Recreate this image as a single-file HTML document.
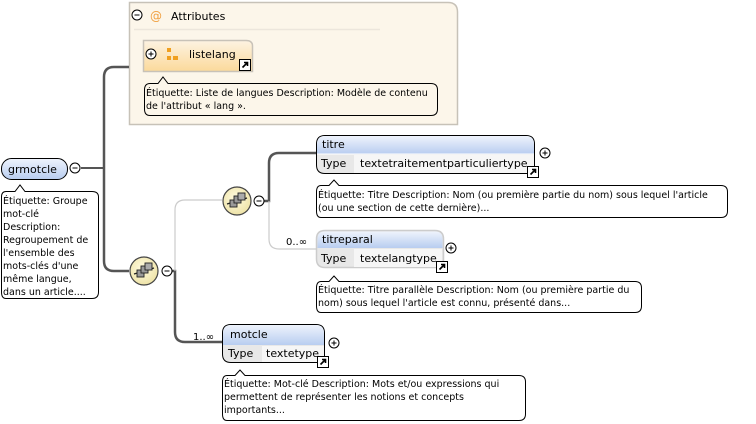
<!DOCTYPE html>
<html><head><meta charset="utf-8"><style>
html,body{margin:0;padding:0;background:#fff;width:756px;height:424px;overflow:hidden}
svg{display:block}
text{font-family:"DejaVu Sans","Liberation Sans",sans-serif;font-size:11px;fill:#000}
.tt{font-size:9.5px}
</style></head><body>
<svg width="756" height="424" viewBox="0 0 756 424" xmlns="http://www.w3.org/2000/svg">
<defs>
<linearGradient id="blue" x1="0" y1="0" x2="0" y2="1"><stop offset="0" stop-color="#eef3fc"/><stop offset="1" stop-color="#b8cdf0"/></linearGradient>
<linearGradient id="org" x1="0" y1="0" x2="0" y2="1"><stop offset="0" stop-color="#fdf3e2"/><stop offset="1" stop-color="#fbd99a"/></linearGradient>
<radialGradient id="seq" cx="0.45" cy="0.4" r="0.6"><stop offset="0" stop-color="#fffbe0"/><stop offset="1" stop-color="#eee3a8"/></radialGradient>
<g id="minus"><circle r="5" fill="#fff" stroke="#000" stroke-width="1"/><line x1="-2.5" y1="0" x2="2.5" y2="0" stroke="#000"/></g>
<g id="plus"><circle r="5" fill="#fff" stroke="#000" stroke-width="1"/><line x1="-2.5" y1="0" x2="2.5" y2="0" stroke="#000"/><line x1="0" y1="-2.5" x2="0" y2="2.5" stroke="#000"/></g>
<g id="link"><rect width="11" height="11" fill="#fff" stroke="#000"/><path d="M3 8 L8 3 M4.5 3 H8 V6.5" stroke="#000" stroke-width="1.6" fill="none"/></g>
<g id="seqicon"><circle r="14" fill="url(#seq)" stroke="#444" stroke-width="1.2"/><line x1="-10" y1="3" x2="10" y2="-3" stroke="#222" stroke-width="1.2"/><rect x="-7" y="-1" width="7" height="7" fill="#999" stroke="#222" stroke-width="0.9"/><rect x="-3" y="-5" width="7" height="7" fill="#999" stroke="#222" stroke-width="0.9"/><rect x="1" y="-8" width="7" height="7" fill="#aaa" stroke="#222" stroke-width="0.9"/></g>
</defs>

<!-- Attributes box -->
<path d="M129.5 2.5 H448 Q457.5 2.5 457.5 12 V124.5 H129.5 Z" fill="#fcf6ea" stroke="#c7c2b8" stroke-width="1.5"/>
<line x1="134" y1="29.5" x2="380" y2="29.5" stroke="#ece6dc" stroke-width="1.5"/>
<use href="#minus" x="137" y="15"/>
<text x="150" y="20" style="fill:#f0a040;font-size:12px">@</text>
<text x="171" y="20">Attributes</text>
<path d="M143.5 40.5 H246 Q252.5 40.5 252.5 46 V71.5 H143.5 Z" fill="url(#org)" stroke="#c8c2b8" stroke-width="1.5"/>
<use href="#plus" x="151" y="54"/>
<rect x="167" y="48" width="4" height="4" fill="#f0a020"/><rect x="167" y="56" width="4" height="4" fill="#f0a020"/><rect x="173" y="56" width="5" height="4" fill="#f0a020"/>
<text x="189" y="58">listelang</text>
<use href="#link" x="239.5" y="59.5"/>
<path d="M150 83.5 H158 L163 77 L168 83.5 H431 Q437.5 83.5 437.5 90 V109 Q437.5 115.5 431 115.5 H150 Q144.5 115.5 144.5 109 V90 Q144.5 83.5 150 83.5 Z" fill="#fcf6ea" stroke="#000"/>
<text class="tt" x="146" y="96">Étiquette: Liste de langues Description: Modèle de contenu</text>
<text class="tt" x="146" y="109">de l'attribut « lang ».</text>

<!-- connectors -->
<path d="M81 168 H104" stroke="#555" stroke-width="2" fill="none"/>
<path d="M129 67 H114 Q104 67 104 77 V261 Q104 271 114 271 H129" stroke="#555" stroke-width="2.5" fill="none"/>
<path d="M172 271 H175 V332 Q175 342 185 342 H222" stroke="#555" stroke-width="2.5" fill="none"/>
<path d="M175 271 V210 Q175 200 185 200 H222" stroke="#ccc" stroke-width="1.2" fill="none"/>
<path d="M264 201 H269 V163 Q269 153 279 153 H316" stroke="#555" stroke-width="2.5" fill="none"/>
<path d="M269 201 V239 Q269 249 279 249 H316" stroke="#ccc" stroke-width="1.2" fill="none"/>

<!-- grmotcle -->
<rect x="1.5" y="158.5" width="66" height="21" rx="10" fill="url(#blue)" stroke="#000"/>
<text x="8" y="173">grmotcle</text>
<use href="#minus" x="75" y="168"/>
<path d="M6 191.5 H15 L20 185 L25 191.5 H92 Q98.5 191.5 98.5 197 V292 Q98.5 298.5 92 298.5 H6 Q1.5 298.5 1.5 292 V197 Q1.5 191.5 6 191.5 Z" fill="#fff" stroke="#000"/>
<text class="tt" x="3" y="204">Étiquette: Groupe</text>
<text class="tt" x="3" y="217">mot-clé</text>
<text class="tt" x="3" y="230">Description:</text>
<text class="tt" x="3" y="243">Regroupement de</text>
<text class="tt" x="3" y="256">l'ensemble des</text>
<text class="tt" x="3" y="269">mots-clés d'une</text>
<text class="tt" x="3" y="282">même langue,</text>
<text class="tt" x="3" y="295">dans un article....</text>

<!-- sequences -->
<use href="#seqicon" x="144" y="271"/>
<use href="#minus" x="167" y="271"/>
<use href="#seqicon" x="237" y="201"/>
<use href="#minus" x="259" y="201"/>

<!-- titre -->
<path d="M316.5 144 Q316.5 135.5 325 135.5 H526 Q534.5 135.5 534.5 144 V173.5 H325 Q316.5 173.5 316.5 165 Z" fill="#e8e8e8" stroke="#000"/>
<path d="M317 144 Q317 136 325 136 H526 Q534 136 534 144 V154 H317 Z" fill="url(#blue)"/>
<line x1="317" y1="154" x2="534" y2="154" stroke="#fff"/>
<rect x="354" y="155" width="180" height="18" fill="#f6f6f6"/>
<text x="322" y="148">titre</text>
<text x="321" y="167">Type</text>
<text x="360" y="167">textetraitementparticuliertype</text>
<use href="#link" x="527.5" y="166.5"/>
<use href="#plus" x="545" y="153"/>
<path d="M321 185.5 H329 L334 180 L339 185.5 H721 Q727.5 185.5 727.5 192 V211 Q727.5 217.5 721 217.5 H321 Q316.5 217.5 316.5 211 V192 Q316.5 185.5 321 185.5 Z" fill="#fff" stroke="#000"/>
<text class="tt" x="318" y="198">Étiquette: Titre Description: Nom (ou première partie du nom) sous lequel l'article</text>
<text class="tt" x="318" y="211">(ou une section de cette dernière)...</text>

<!-- titreparal -->
<text x="286" y="245" style="font-size:10px">0..∞</text>
<path d="M316.5 239 Q316.5 230.5 325 230.5 H435 Q443.5 230.5 443.5 239 V267.5 H325 Q316.5 267.5 316.5 259 Z" fill="#e8e8e8" stroke="#ccc" stroke-width="1.5"/>
<path d="M317.5 239 Q317.5 231.5 325 231.5 H435 Q442.5 231.5 442.5 239 V248 H317.5 Z" fill="url(#blue)"/>
<rect x="354" y="249" width="88" height="18" fill="#f6f6f6"/>
<text x="322" y="243">titreparal</text>
<text x="321" y="262">Type</text>
<text x="360" y="262">textelangtype</text>
<use href="#link" x="436.5" y="261.5"/>
<use href="#plus" x="451" y="248"/>
<path d="M321 281.5 H329 L334 276 L339 281.5 H635 Q641.5 281.5 641.5 288 V306 Q641.5 312.5 635 312.5 H321 Q316.5 312.5 316.5 306 V288 Q316.5 281.5 321 281.5 Z" fill="#fff" stroke="#000"/>
<text class="tt" x="318" y="293">Étiquette: Titre parallèle Description: Nom (ou première partie du</text>
<text class="tt" x="318" y="306">nom) sous lequel l'article est connu, présenté dans...</text>

<!-- motcle -->
<text x="193" y="340" style="font-size:10px">1..∞</text>
<path d="M222.5 333 Q222.5 324.5 231 324.5 H316 Q324.5 324.5 324.5 333 V362.5 H231 Q222.5 362.5 222.5 354 Z" fill="#e8e8e8" stroke="#000"/>
<path d="M223 333 Q223 325 231 325 H316 Q324 325 324 333 V345 H223 Z" fill="url(#blue)"/>
<rect x="262" y="346" width="62" height="16" fill="#f6f6f6"/>
<text x="230" y="338">motcle</text>
<text x="228" y="357">Type</text>
<text x="266" y="357">textetype</text>
<use href="#link" x="317.5" y="356.5"/>
<use href="#plus" x="334" y="343"/>
<path d="M227 375.5 H235 L240 370 L245 375.5 H519 Q525.5 375.5 525.5 382 V414 Q525.5 420.5 519 420.5 H227 Q222.5 420.5 222.5 414 V382 Q222.5 375.5 227 375.5 Z" fill="#fff" stroke="#000"/>
<text class="tt" x="224" y="387">Étiquette: Mot-clé Description: Mots et/ou expressions qui</text>
<text class="tt" x="224" y="400">permettent de représenter les notions et concepts</text>
<text class="tt" x="224" y="413">importants...</text>
</svg>
</body></html>
